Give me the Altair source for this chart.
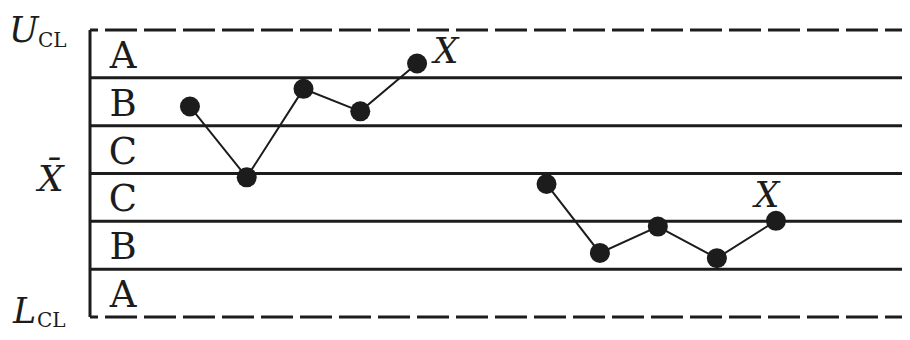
import altair as alt
import pandas as pd

# ---- data ----
zone_bounds = [3, 2, 1, 0, -1, -2, -3]          # in sigma units, UCL .. LCL
limit_bounds = [3, -3]                            # dashed control limits
inner_bounds = [2, 1, 0, -1, -2]                  # solid zone boundaries
zone_names = ["A", "B", "C", "C", "B", "A"]
zone_centers = [2.5, 1.5, 0.5, -0.5, -1.5, -2.5]

s1_x = [1, 2, 3, 4, 5]
s1_y = [1.40, -0.08, 1.77, 1.30, 2.30]
s2_x = [7.28, 8.22, 9.24, 10.28, 11.32]
s2_y = [-0.22, -1.66, -1.11, -1.77, -0.99]

x_domain = [-0.76, 13.54]
y_domain = [-3, 3]

INK = "#1c1c1c"
SERIF = "DejaVu Serif"

pts = pd.DataFrame({
    "x": s1_x + s2_x,
    "y": s1_y + s2_y,
    "series": ["s1"] * len(s1_x) + ["s2"] * len(s2_x),
})
last1 = pd.DataFrame({"x": [s1_x[-1]], "y": [s1_y[-1]], "t": ["X"]})
last2 = pd.DataFrame({"x": [s2_x[-1]], "y": [s2_y[-1]], "t": ["X"]})

xs = alt.Scale(domain=x_domain, nice=False, zero=False)
ys = alt.Scale(domain=y_domain, nice=False, zero=False)
X = lambda: alt.X("x:Q", scale=xs, axis=None)
Y = lambda f="y": alt.Y(f"{f}:Q", scale=ys, axis=None)

solid = alt.Chart(pd.DataFrame({"y": inner_bounds})).mark_rule(
    color=INK, strokeWidth=3
).encode(y=Y())

dashed = alt.Chart(pd.DataFrame({"y": limit_bounds})).mark_rule(
    color=INK, strokeWidth=3, strokeDash=[32, 7], strokeDashOffset=15
).encode(y=Y())

left_edge = alt.Chart(pd.DataFrame({"y": [zone_bounds[0]], "y2": [zone_bounds[-1]]})).mark_rule(
    color=INK, strokeWidth=3
).encode(x=alt.value(0), y=Y(), y2="y2:Q")

zones = alt.Chart(pd.DataFrame({"y": zone_centers, "t": zone_names})).mark_text(
    font=SERIF, fontSize=37, color=INK, align="center", baseline="alphabetic", dy=14
).encode(x=alt.value(33), y=Y(), text="t:N")

line = alt.Chart(pts).mark_line(color=INK, strokeWidth=2).encode(
    x=X(), y=Y(), detail="series:N"
)
dots = alt.Chart(pts).mark_circle(color=INK, opacity=1, size=400).encode(x=X(), y=Y())

lab1 = alt.Chart(last1).mark_text(
    font=SERIF, fontStyle="italic", fontSize=35, color=INK,
    align="center", baseline="alphabetic", dx=29, dy=0
).encode(x=X(), y=Y(), text="t:N")
lab2 = alt.Chart(last2).mark_text(
    font=SERIF, fontStyle="italic", fontSize=35, color=INK,
    align="center", baseline="alphabetic", dx=-9, dy=-14
).encode(x=X(), y=Y(), text="t:N")

# left-hand labels: U_CL, X-bar, L_CL
ucl_main = alt.Chart(pd.DataFrame({"y": [3], "t": ["U"]})).mark_text(
    font=SERIF, fontStyle="italic", fontSize=35, color=INK, align="left",
    baseline="alphabetic", dy=12
).encode(x=alt.value(-81), y=Y(), text="t:N")
ucl_sub = alt.Chart(pd.DataFrame({"y": [3], "t": ["CL"]})).mark_text(
    font=SERIF, fontSize=20, color=INK, align="left", baseline="alphabetic", dy=17
).encode(x=alt.value(-52), y=Y(), text="t:N")
xbar = alt.Chart(pd.DataFrame({"y": [0], "t": ["X\u0304"]})).mark_text(
    font=SERIF, fontStyle="italic", fontSize=36, color=INK, align="left",
    baseline="alphabetic", dy=17
).encode(x=alt.value(-52), y=Y(), text="t:N")
lcl_main = alt.Chart(pd.DataFrame({"y": [-3], "t": ["L"]})).mark_text(
    font=SERIF, fontStyle="italic", fontSize=35, color=INK, align="left",
    baseline="alphabetic", dy=6
).encode(x=alt.value(-77), y=Y(), text="t:N")
lcl_sub = alt.Chart(pd.DataFrame({"y": [-3], "t": ["CL"]})).mark_text(
    font=SERIF, fontSize=20, color=INK, align="left", baseline="alphabetic", dy=10
).encode(x=alt.value(-53), y=Y(), text="t:N")

chart = alt.layer(
    solid, dashed, left_edge, zones, line, dots, lab1, lab2,
    ucl_main, ucl_sub, xbar, lcl_main, lcl_sub
).properties(
    width=812, height=287,
    autosize=alt.AutoSizeParams(type="none"),
    padding={"left": 82, "top": 22, "right": 0, "bottom": 15},
    background="white",
).configure_view(strokeWidth=0)

chart.save("out.html", embed_options={"renderer": "svg", "actions": False})
